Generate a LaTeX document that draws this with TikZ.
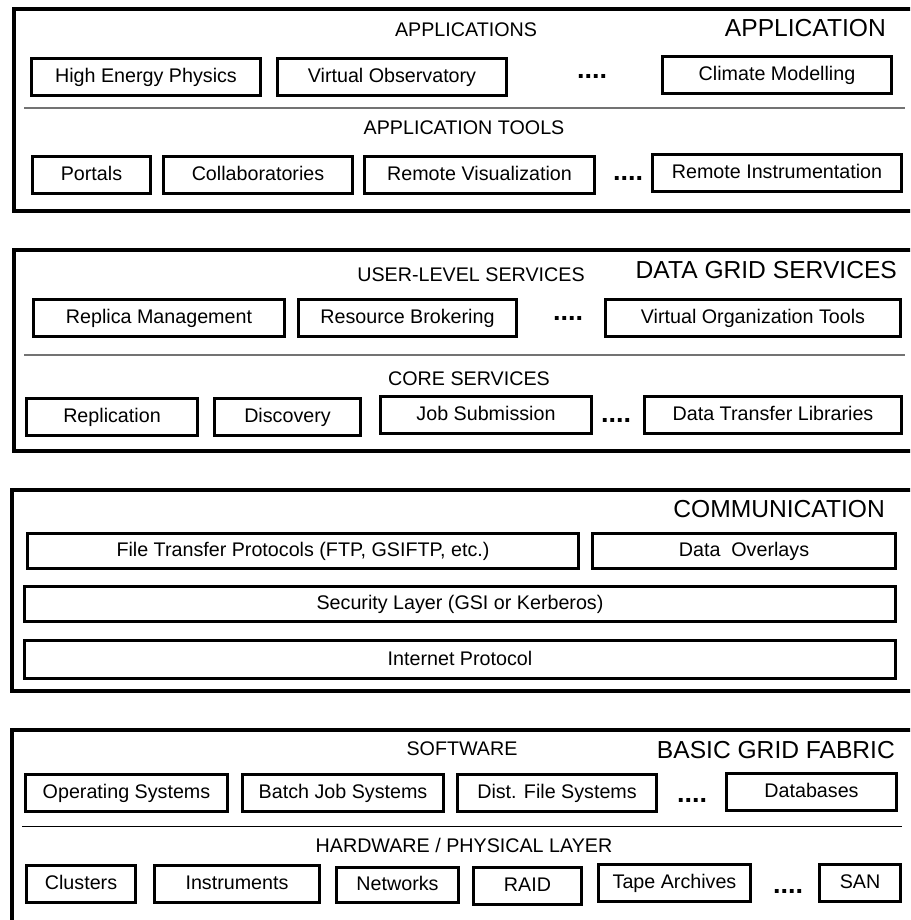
\documentclass[tikz,border=0pt]{standalone}
\usepackage{fontspec}
\setmainfont{Liberation Sans}

\begin{document}
\begin{tikzpicture}[x=1pt, y=-1pt,
    layerbox/.style={draw, line width=4pt},
    unitbox/.style={draw, line width=3pt, inner sep=0pt, minimum height=37pt,
        text height=14pt, text depth=3pt, font=\fontsize{19.7}{23}\selectfont},
    sublabel/.style={anchor=base, inner sep=0pt, font=\fontsize{19.7}{23}\selectfont},
    layertitle/.style={anchor=base east, inner sep=0pt, font=\fontsize{24.6}{29}\selectfont},
    dotsep/.style={anchor=base, inner sep=0pt, font=\fontsize{27}{30}\selectfont\bfseries},
    divider/.style={draw=black!55, line width=1.5pt}]
            \useasboundingbox (0,0) rectangle (910,920);
            \clip (0,0) rectangle (910,920);

            % Application layer
            \draw[layerbox] (13.5,9) rectangle (925,211);
            \node[sublabel] (apps) at (466,37) {APPLICATIONS};
            \node[layertitle] (applayer) at (886,37) {APPLICATION};
            \node[unitbox, minimum width=229pt] (hep) at (146,77) {High Energy Physics};
            \node[unitbox, minimum width=229pt] (vo) at (392,77) {Virtual Observatory};
            \node[dotsep] (appdots) at (592,79) {....};
            \node[unitbox, minimum width=229pt] (climate) at (777,75.5) {Climate Modelling};
            \draw[divider] (24,108) -- (905,108);
            \node[sublabel] (apptools) at (464,135) {APPLICATION TOOLS};
            \node[unitbox, minimum width=118pt] (portals) at (91.5,175) {Portals};
            \node[unitbox, minimum width=189pt] (collab) at (258,175) {Collaboratories};
            \node[unitbox, minimum width=230pt] (remvis) at (479.5,175) {Remote Visualization};
            \node[dotsep] (tooldots) at (628,180) {....};
            \node[unitbox, minimum width=249pt] (reminstr) at (777,173) {Remote Instrumentation};

            % Data grid services layer
            \draw[layerbox] (13.5,250) rectangle (925,451);
            \node[sublabel] (userlevel) at (471,281) {USER-LEVEL SERVICES};
            \node[layertitle] (gridlayer) at (897,278) {DATA GRID SERVICES};
            \node[unitbox, minimum width=251pt] (replman) at (159,317.5) {Replica Management};
            \node[unitbox, minimum width=218pt] (broker) at (407.5,317.5) {Resource Brokering};
            \node[dotsep] (userdots) at (568,320) {....};
            \node[unitbox, minimum width=295pt] (votools) at (753,317.5) {Virtual Organization Tools};
            \draw[divider] (24,355) -- (905,355);
            \node[sublabel] (core) at (469,385) {CORE SERVICES};
            \node[unitbox, minimum width=171pt] (replic) at (112,417) {Replication};
            \node[unitbox, minimum width=146pt] (discov) at (287.5,417) {Discovery};
            \node[unitbox, minimum width=211pt] (jobsub) at (486,415) {Job Submission};
            \node[dotsep] (coredots) at (616,422) {....};
            \node[unitbox, minimum width=257pt] (dtlib) at (773,415) {Data Transfer Libraries};

            % Communication layer
            \draw[layerbox] (12,490) rectangle (925,691);
            \node[layertitle] (commlayer) at (885,517) {COMMUNICATION};
            \node[unitbox, minimum width=551pt, minimum height=35pt] (ftp) at (303,551) {File Transfer Protocols (FTP, GSIFTP, etc.)};
            \node[unitbox, minimum width=303pt, minimum height=35pt] (overlays) at (744,551) {Data\ \ Overlays};
            \node[unitbox, minimum width=871pt, minimum height=35pt] (security) at (460,604) {Security Layer (GSI or Kerberos)};
            \node[unitbox, minimum width=871pt, minimum height=38pt] (inet) at (460,659.5) {Internet Protocol};

            % Basic grid fabric layer
            \draw[layerbox] (12,730) rectangle (925,935);
            \node[sublabel] (software) at (462,755) {SOFTWARE};
            \node[layertitle] (fabric) at (895,758) {BASIC GRID FABRIC};
            \node[unitbox, minimum width=202pt] (opsys) at (126.5,793) {Operating Systems};
            \node[unitbox, minimum width=201pt] (batch) at (343,793) {Batch Job Systems};
            \node[unitbox, minimum width=199pt] (distfs) at (557,793) {Dist. File Systems};
            \node[dotsep] (softdots) at (692,802) {....};
            \node[unitbox, minimum width=170pt] (dbases) at (811.5,792) {Databases};
            \draw[divider, draw=black, line width=1pt] (22,826) -- (902,826);
            \node[sublabel] (hardware) at (464,852) {HARDWARE / PHYSICAL LAYER};
            \node[unitbox, minimum width=109pt] (clusters) at (81,884) {Clusters};
            \node[unitbox, minimum width=165pt] (instr) at (237,884) {Instruments};
            \node[unitbox, minimum width=122pt, minimum height=35pt] (networks) at (397.5,884.5) {Networks};
            \node[unitbox, minimum width=108pt] (raid) at (527.5,886) {RAID};
            \node[unitbox, minimum width=152pt] (tape) at (674.5,883) {Tape Archives};
            \node[dotsep] (harddots) at (788,893) {....};
            \node[unitbox, minimum width=81pt] (san) at (860,883) {SAN};
        \end{tikzpicture}
\end{document}
